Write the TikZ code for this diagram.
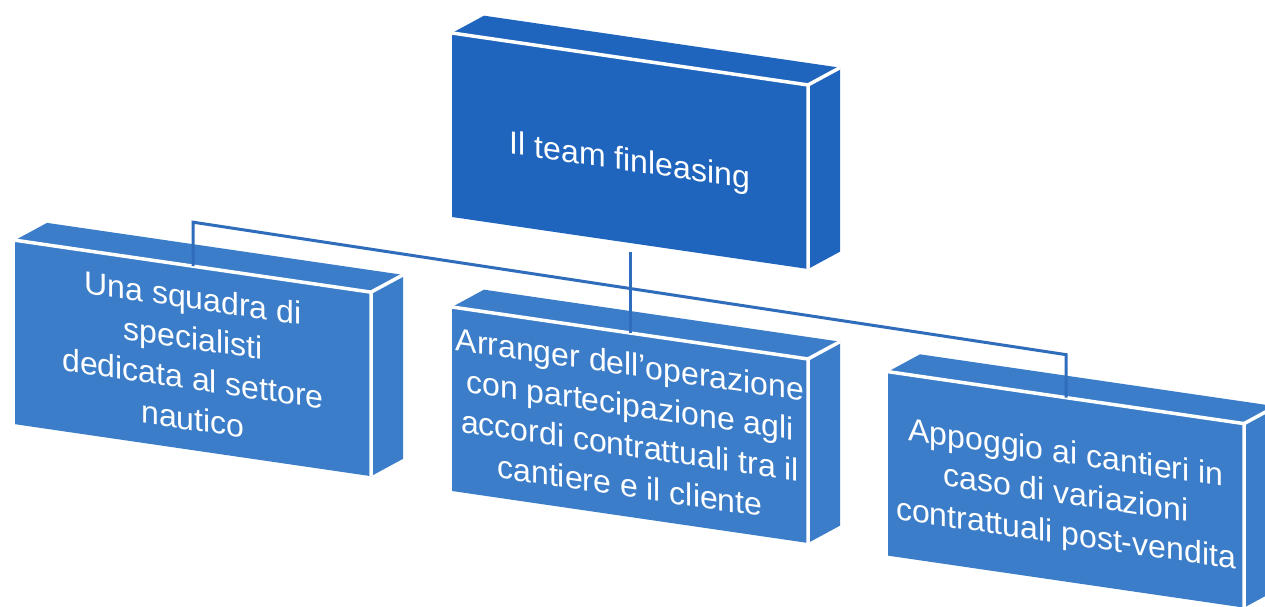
\documentclass[tikz,border=0pt]{standalone}
\usepackage{fontspec}
\setmainfont{Liberation Sans}
\definecolor{headblue}{RGB}{31,101,189}
\definecolor{cardblue}{RGB}{59,125,200}
\definecolor{linkblue}{RGB}{47,109,188}
\tikzset{
  card/.style={minimum width=356pt, minimum height=184pt, inner sep=0pt, outer sep=0pt,
    align=center, text=white, font=\fontsize{32}{40.5}\selectfont},
  link/.style={linkblue, line width=3pt},
  gap/.style={white, line width=3.5pt},
}
% top and side faces of a card
\newcommand{\slab}[2]{%
  \fill[#2] (#1.north west) -- ++(32,-22) -- ++(356,0) -- (#1.north east) -- cycle;
  \fill[#2] (#1.north east) -- ++(32,-22) -- ++(0,184) -- (#1.south east) -- cycle;
  \draw[gap] (#1.north west) -- (#1.north east) -- (#1.south east);
  \draw[gap] (#1.north east) -- ++(32,-22);
}

\begin{document}
\begin{tikzpicture}[x=1pt, y=-1pt]
  \clip (0,0) rectangle (1265,606);
  \begin{scope}[yslant=-0.146, transform shape]
    \node[card, fill=headblue, text height=47pt] (head) at (630,59) {Il team finleasing};
    \node[card, fill=cardblue] (squad) at (193,330) {Una squadra di\\specialisti\\dedicata al settore\\nautico};
    \node[card, fill=cardblue] (arranger) at (630,333) {Arranger dell'operazione\\con partecipazione agli\\accordi contrattuali tra il\\cantiere e il cliente};
    \node[card, fill=cardblue, text height=116pt] (support) at (1066,334) {Appoggio ai cantieri in\\caso di variazioni\\contrattuali post-vendita};
    \slab{head}{headblue}
    \slab{squad}{cardblue}
    \slab{arranger}{cardblue}
    \slab{support}{cardblue}
    \coordinate (busL) at (193,194); % bus ends
    \coordinate (busM) at (630,196);
    \coordinate (busR) at (1066,199);
    \draw[link] (squad.north) -- (busL) -- (busR) -- (support.north); % bus
    \draw[link] (arranger.north) -- (busM);
    \draw[link, shorten <=9pt] (head.south) -- (busM); % drop from the head
  \end{scope}
\end{tikzpicture}
\end{document}
